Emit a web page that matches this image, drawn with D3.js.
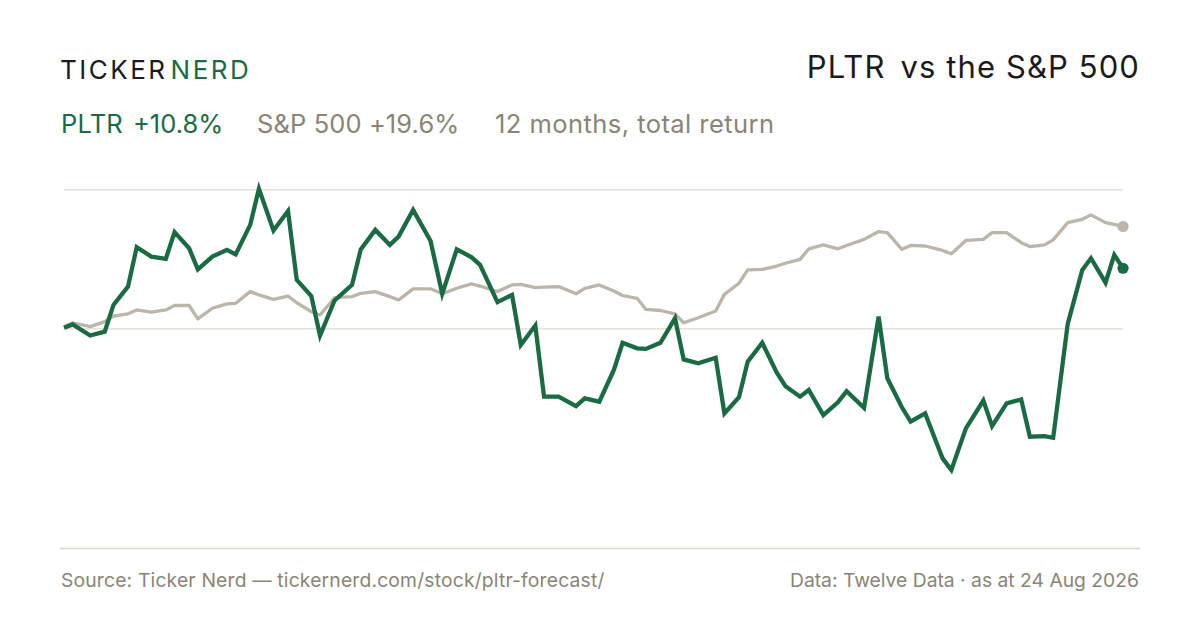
<!DOCTYPE html>
<html>
<head>
<meta charset="utf-8">
<script src="https://cdn.jsdelivr.net/npm/d3@7"></script>
<style>
  html, body { margin: 0; padding: 0; background: #ffffff; }
  svg { display: block; font-family: Inter, "Liberation Sans", Arial, sans-serif; }
</style>
</head>
<body>
<svg id="chart" width="1200" height="630"></svg>
<script>
// ---- data ----
const dates = ["2025-08-25","2025-08-28","2025-09-03","2025-09-08","2025-09-11","2025-09-16","2025-09-19","2025-09-24","2025-09-29","2025-10-02","2025-10-07","2025-10-10","2025-10-15","2025-10-20","2025-10-23","2025-10-28","2025-10-31","2025-11-05","2025-11-10","2025-11-13","2025-11-18","2025-11-21","2025-11-26","2025-12-02","2025-12-05","2025-12-10","2025-12-15","2025-12-18","2025-12-23","2025-12-29","2026-01-02","2026-01-07","2026-01-12","2026-01-15","2026-01-21","2026-01-26","2026-01-29","2026-02-03","2026-02-06","2026-02-11","2026-02-17","2026-02-20","2026-02-25","2026-03-02","2026-03-05","2026-03-10","2026-03-13","2026-03-18","2026-03-23","2026-03-26","2026-03-31","2026-04-06","2026-04-09","2026-04-14","2026-04-17","2026-04-22","2026-04-27","2026-04-30","2026-05-05","2026-05-08","2026-05-13","2026-05-18","2026-05-21","2026-05-27","2026-06-01","2026-06-04","2026-06-09","2026-06-12","2026-06-17","2026-06-23","2026-06-26","2026-07-01","2026-07-07","2026-07-10","2026-07-15","2026-07-20","2026-07-23","2026-07-28","2026-07-31","2026-08-05","2026-08-10","2026-08-13","2026-08-18","2026-08-21","2026-08-24"];

// cumulative total return, %
const pltrReturn = [0.1,0.7,-1.3,-0.6,4.2,7.5,14.6,12.9,12.5,17.3,14.4,10.6,12.9,14.1,13.3,18.6,25.1,17.6,21.1,8.7,5.8,-1.3,5.0,7.8,14.2,17.7,15.0,16.5,21.3,15.7,6.2,14.2,12.8,11.4,4.7,6.0,-3.0,0.5,-12.3,-12.3,-14.0,-12.6,-13.2,-7.5,-2.6,-3.6,-3.7,-2.6,1.8,-5.6,-6.3,-5.3,-15.3,-12.4,-6.0,-2.6,-8.0,-10.4,-12.3,-11.1,-15.6,-13.3,-11.3,-14.3,2.1,-9.0,-14.2,-16.8,-15.3,-23.4,-25.5,-18.0,-13.0,-17.6,-13.5,-12.8,-19.5,-19.4,-19.7,0.8,10.5,12.6,8.2,13.2,10.8];

const spxReturn = [0.3,1.0,0.3,1.2,2.2,2.6,3.3,2.9,3.3,4.1,4.1,1.7,3.6,4.4,4.5,6.6,6.0,5.2,5.8,4.6,3.0,2.4,5.5,5.7,6.3,6.6,5.7,5.1,7.1,7.1,6.2,7.2,8.0,7.6,6.6,7.8,7.9,7.3,7.4,7.5,6.2,7.2,7.8,6.7,5.9,5.4,3.4,3.2,2.6,1.0,1.9,3.1,6.1,8.1,10.5,10.6,11.2,11.7,12.4,14.3,15.0,14.3,14.9,16.0,17.4,17.2,14.2,14.9,14.8,14.0,13.4,15.8,16.0,17.2,17.2,15.4,14.7,15.0,15.9,19.0,19.6,20.4,19.0,18.7,18.3];

const gridValues = [0, 25];
const yDomain = [-30, 25];

const seriesNames = ["PLTR", "S&P 500"];
const headlineReturns = ["+10.8%", "+19.6%"];
const titleText = ["PLTR", "vs the S&P 500"];
const periodLabel = "12 months, total return";
const brand = ["TICKER", "NERD"];
const sourceNote = "Source: Ticker Nerd \u2014 tickernerd.com/stock/pltr-forecast/";
const dataNote = "Data: Twelve Data \u00b7 as at 24 Aug 2026";

// ---- styles ----
const GREEN = "#1a6a43";
const GREY_LINE = "#bcb5aa";
const GREY_TEXT = "#8a8477";
const DARK = "#1b1b1b";

const svg = d3.select("#chart");
const parse = d3.utcParse("%Y-%m-%d");
const xs = dates.map(parse);

const x = d3.scaleUtc().domain(d3.extent(xs)).range([64, 1123]);
const y = d3.scaleLinear().domain(yDomain).range([495.1, 189.3]);

// gridlines
const grid = svg.append("g").attr("transform", "translate(64,0)")
  .call(d3.axisLeft(y).tickValues(gridValues).tickSize(-(1123 - 64)).tickFormat(""));
grid.select(".domain").remove();
grid.selectAll("line").attr("stroke", "#e6e2da").attr("stroke-width", 1.5);

// lines
const line = d3.line().x((d, i) => x(xs[i])).y(d => y(d));

svg.append("path").datum(spxReturn)
  .attr("d", line).attr("fill", "none")
  .attr("stroke", GREY_LINE).attr("stroke-width", 3.3)
  .attr("stroke-linejoin", "round");

svg.append("path").datum(pltrReturn)
  .attr("d", line).attr("fill", "none")
  .attr("stroke", GREEN).attr("stroke-width", 4.3)
  .attr("stroke-linejoin", "miter");

// end dots
const last = xs.length - 1;
svg.append("circle").attr("cx", x(xs[last])).attr("cy", y(spxReturn[last])).attr("r", 5.6).attr("fill", GREY_LINE);
svg.append("circle").attr("cx", x(xs[last])).attr("cy", y(pltrReturn[last])).attr("r", 5.6).attr("fill", GREEN);

// brand
const b = svg.append("text").attr("x", 60).attr("y", 79)
  .attr("font-size", 26).attr("letter-spacing", 2.5);
b.append("tspan").attr("fill", DARK).text(brand[0]);
b.append("tspan").attr("fill", GREEN).attr("dx", 3).text(brand[1]);

// title
const t = svg.append("text").attr("x", 1140).attr("y", 77.5)
  .attr("text-anchor", "end").attr("font-size", 31).attr("letter-spacing", 1.1).attr("fill", DARK);
t.append("tspan").text(titleText[0]);
t.append("tspan").attr("dx", 15).text(titleText[1]);

// subtitle / legend
const legendY = 132.5, legendSize = 25.5;
function legendText(xp, fill, str, ls) {
  svg.append("text").attr("x", xp).attr("y", legendY).attr("font-size", legendSize)
    .attr("letter-spacing", ls).attr("fill", fill).text(str);
}
legendText(61, GREEN, seriesNames[0], 0.2);
legendText(133, GREEN, headlineReturns[0], 0);
legendText(257, GREY_TEXT, seriesNames[1] + " " + headlineReturns[1], 0.1);
legendText(495, GREY_TEXT, periodLabel, 0.45);

// footer
svg.append("line").attr("x1", 60).attr("x2", 1140).attr("y1", 548.5).attr("y2", 548.5)
  .attr("stroke", "#dcd8ce").attr("stroke-width", 1.5);
svg.append("text").attr("x", 61).attr("y", 587).attr("font-size", 19.3).attr("letter-spacing", 0.18)
  .attr("fill", GREY_TEXT).text(sourceNote);
svg.append("text").attr("x", 1139).attr("y", 587).attr("text-anchor", "end").attr("font-size", 19.3)
  .attr("fill", GREY_TEXT).text(dataNote);
</script>
</body>
</html>
